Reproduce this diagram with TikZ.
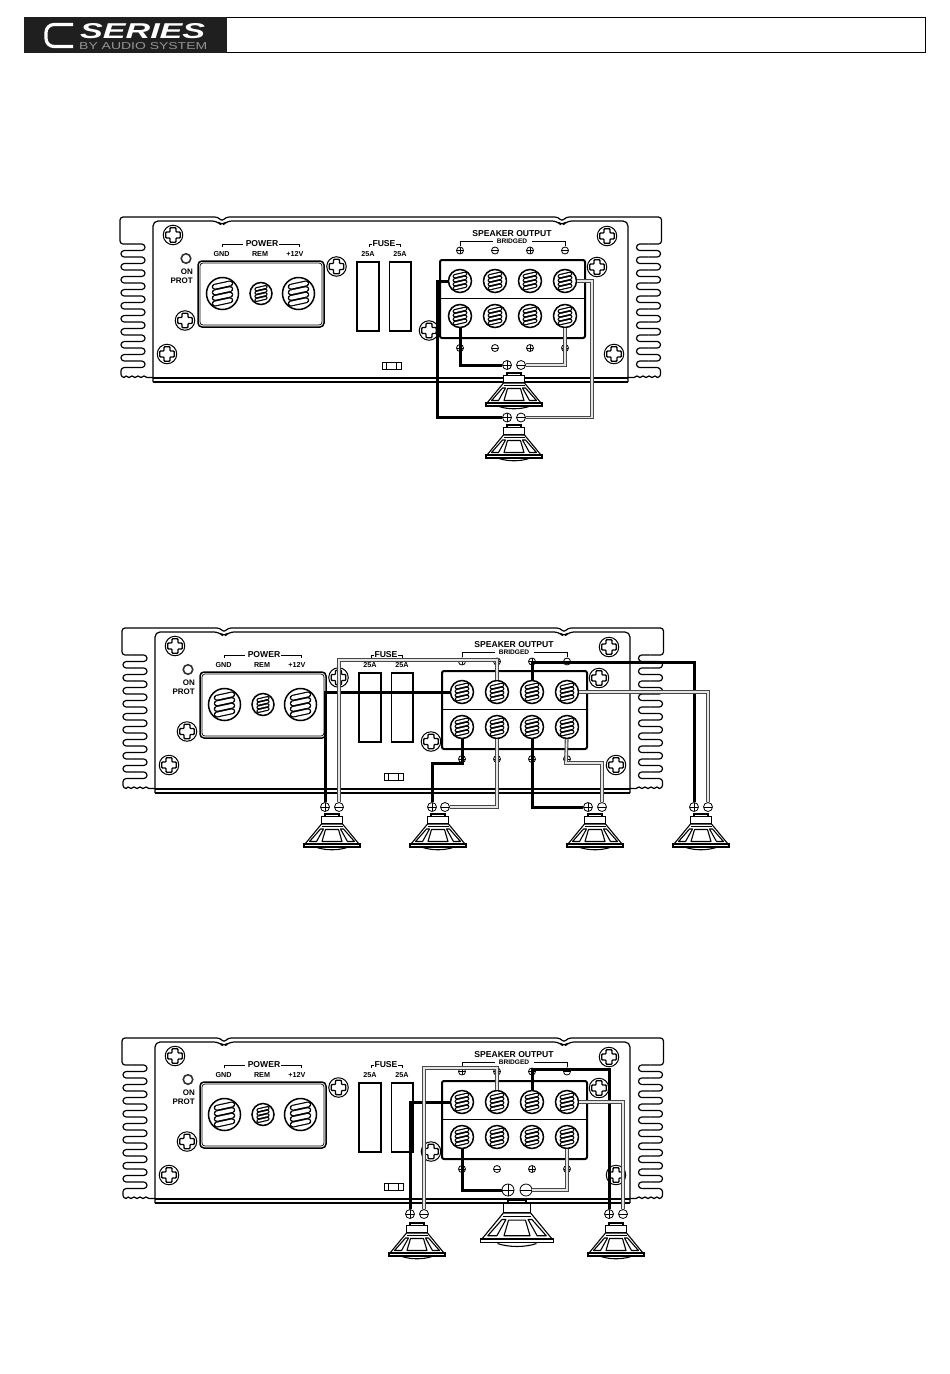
\documentclass[tikz,border=0pt]{standalone}
\usepackage{fontspec}
\usepackage{graphicx}
\setmainfont{Liberation Sans}
\usetikzlibrary{calc}
\tikzset{
  chline/.style={line width=1.2,line join=round},
  lab/.style={inner sep=0,font=\fontsize{7.2}{8}\selectfont\bfseries},
  labmid/.style={inner sep=0,font=\fontsize{8}{9}\selectfont\bfseries},
  labbig/.style={inner sep=0,font=\fontsize{8.6}{9}\selectfont\bfseries},
  labsmall/.style={inner sep=0,font=\fontsize{6.6}{7}\selectfont\bfseries},
  polep/.style={circle,draw,fill=white,line width=.8,minimum size=#1,inner sep=0,
    path picture={\draw[line width=.7] (path picture bounding box.north)--(path picture bounding box.south)
      (path picture bounding box.east)--(path picture bounding box.west);}},
  polem/.style={circle,draw,fill=white,line width=.8,minimum size=#1,inner sep=0,
    path picture={\draw[line width=.7] (path picture bounding box.east)--(path picture bounding box.west);}},
  screwnode/.style={circle,draw,fill=white,line width=1,minimum size=19.5,inner sep=0,
    path picture={\begin{scope}[shift={(path picture bounding box.center)}]
      \draw[line width=1.3,rounded corners=.8] (-3,-7.2)--(3,-7.2)--(3,-3)--(7.2,-3)--(7.2,3)--(3,3)--(3,7.2)--(-3,7.2)--(-3,3)--(-7.2,3)--(-7.2,-3)--(-3,-3)--cycle;
    \end{scope}}},
  termnode/.style n args={3}{circle,draw,fill=white,line width=1.5,minimum size=#1,inner sep=0,
    path picture={\begin{scope}[shift={(path picture bounding box.center)}]
      \pgfmathsetmacro\tw{#2}\pgfmathsetmacro\ts{#3}
      \pgfmathsetmacro\tb{\ts+0.4}\pgfmathsetmacro\tc{\ts-2}
      \foreach \q in {-1.5,-0.5,0.5,1.5}{
        \draw[line cap=round,line width=\tb] ({-\tw},{\q*\ts+\ts*0.3})--({\tw},{\q*\ts-\ts*0.3});
        \draw[line cap=round,line width=\tc,white] ({-\tw},{\q*\ts+\ts*0.3})--({\tw},{\q*\ts-\ts*0.3});
      }
    \end{scope}}},
  bw/.style={line width=3,line join=miter,black},
  gw/.style={draw=black!72,line width=1.1,double=black!10,double distance=1.6,line join=miter},
}
% chassis drawing; #1 prefix, #2,#3 origin
\newcommand\ampunit[3]{%
 \begin{scope}[shift={(#2,#3)}]
  \draw[chline,rounded corners=3] (13,28)--(0,28)--(0,1)--(98,1)--(102,5.5)--(106,1)--(438,1)--(442,5.5)--(446,1)--(541.5,1)--(541.5,28)--(528.5,28);
  \draw[chline,rounded corners=5] (33,166)--(33,5)--(97,5)--(102,10)--(107,5)--(437,5)--(442,10)--(447,5)--(508,5)--(508,166);
  \draw[chline] (33,162)--(508,162) (33,166)--(508,166);
  \foreach \i in {0,...,8}{
    \pgfmathsetmacro\ya{28+13*\i}\pgfmathsetmacro\yb{\ya+6.5}\pgfmathsetmacro\yc{\ya+13}
    \draw[chline,rounded corners=3.2] (13,\ya)--(25,\ya)--(25,\yb)--(1,\yb)--(1,\yc)--(13,\yc);
    \draw[chline,rounded corners=3.2] (528.5,\ya)--(516.5,\ya)--(516.5,\yb)--(540.5,\yb)--(540.5,\yc)--(528.5,\yc);
  }
  \draw[chline,rounded corners=3.2] (13,145)--(25,145)--(25,151.5)--(1,151.5)--(1,161.5)--(4,161.5);
  \draw[chline,rounded corners=3.2] (528.5,145)--(516.5,145)--(516.5,151.5)--(540.5,151.5)--(540.5,161.5)--(537.5,161.5);
  \draw[chline] (4,161.5)--(6,160)--(9,161.5)--(12,160)--(15,161.5)--(18,160)--(21,161.5)--(24,160)--(27,161.5)--(33,161.5);
  \draw[chline] (537.5,161.5)--(535,160)--(532,161.5)--(529,160)--(526,161.5)--(523,160)--(520,161.5)--(517,160)--(514,161.5)--(508,161.5);
  % screws
  \node[screwnode] (#1s1) at (53,19) {};
  \node[screwnode] (#1s2) at (65,104.5) {};
  \node[screwnode] (#1s3) at (47,138) {};
  \node[screwnode] (#1s4) at (216.5,50.5) {};
  \node[screwnode] (#1s5) at (477,51) {};
  \node[screwnode] (#1s6) at (309,114.5) {};
  \node[screwnode] (#1s7) at (487,20) {};
  \node[screwnode] (#1s8) at (494,138) {};
  % LED and labels
  \node[circle,draw=black!80,line width=1.6,minimum size=9.5,inner sep=0] (#1led) at (66,42.5) {};
  \node[labmid,anchor=east] (#1on) at (73,56) {ON};
  \node[labmid,anchor=east] (#1prot) at (73,65) {PROT};
  \node[labbig] (#1pow) at (142,28) {POWER};
  \node[lab] (#1gnd) at (101.5,38) {GND};
  \node[lab] (#1rem) at (140,38) {REM};
  \node[lab] (#1vb) at (175,38) {+12V};
  \draw[line width=.8] (102,31)--(102,28)--(123,28) (159,28)--(179,28)--(179,31);
  \node[labbig] (#1fuse) at (264,28) {FUSE};
  \node[lab] (#1fa) at (248,38) {25A};
  \node[lab] (#1fb) at (280,38) {25A};
  \draw[line width=.8] (249,31)--(249,28)--(252,28) (276,28)--(280,28)--(280,31);
  % power block
  \draw[line width=1.5,rounded corners=4] (78,45) rectangle (204,111);
  \draw[line width=.7,rounded corners=3] (80,47) rectangle (202,109);
  \node[termnode={32}{7.8}{5.6}] (#1pa) at (102.5,77.5) {};
  \node[termnode={22}{4.6}{3.6}] (#1pb) at (141,77.5) {};
  \node[termnode={32}{7.8}{5.6}] (#1pc) at (178.5,77.5) {};
  % fuses
  \draw[line width=1.2] (237,46) rectangle (259,115) (269.5,46) rectangle (291,115);
  \draw[line width=.8] (262,146) rectangle (281,153) (266.5,146)--(266.5,153) (276.5,146)--(276.5,153);
  % speaker output block
  \node[labbig] (#1so) at (392,18) {SPEAKER OUTPUT};
  \node[labsmall] (#1br) at (392,25) {BRIDGED};
  \draw[line width=.8] (340,30)--(340,25)--(373,25) (412,25)--(445,25)--(445,30);
  \draw[line width=2,rounded corners=2] (320,44) rectangle (465,122);
  \draw[line width=1] (320,82)--(465,82);
  \foreach \n/\x in {1/340,2/375,3/410,4/445}{
    \node[termnode={23}{5.2}{4}] (#1t\n) at (\x,65) {};
    \node[termnode={23}{5.2}{4}] (#1b\n) at (\x,100) {};
  }
  \node[polep=7] (#1ma) at (340,34.5) {};
  \node[polem=7] (#1mb) at (375,34.5) {};
  \node[polep=7] (#1mc) at (410,34.5) {};
  \node[polem=7] (#1md) at (445,34.5) {};
  \node[polep=7] (#1na) at (340,132) {};
  \node[polem=7] (#1nb) at (375,132) {};
  \node[polep=7] (#1nc) at (410,132) {};
  \node[polem=7] (#1nd) at (445,132) {};
 \end{scope}}
% speaker; #1,#2 top centre; #3 scale
\newcommand\spk[3]{%
 \begin{scope}[shift={(#1,#2)},scale=#3]
  \draw[line width=2,fill=white] (-7,0) rectangle (7,2.5);
  \draw[line width=1.1,fill=white] (-10.5,2.5) rectangle (10.5,9.5);
  \draw[line width=1.1,fill=white,line join=round] (-10.5,10)--(-27,30)--(27,30)--(10.5,10)--cycle;
  \draw[line width=1.2] (-10.5,12.5)--(10.5,12.5);
  \draw[line width=1.1,fill=white,line join=round] (-11.5,15)--(-22.5,27.5)--(-15.5,27.5)--(-8.5,15)--cycle;
  \draw[line width=1.1,fill=white,line join=round] (11.5,15)--(22.5,27.5)--(15.5,27.5)--(8.5,15)--cycle;
  \draw[line width=1.1,fill=white,line join=round] (-6.5,15.5)--(6.5,15.5)--(10,27.5)--(-10,27.5)--cycle;
  \draw[line width=1.1,fill=white] (-28,30) rectangle (28,33);
  \draw[line width=1.1] (-15,33.5) .. controls (-6,36.5) and (6,36.5) .. (15,33.5);
 \end{scope}}
\begin{document}
\begin{tikzpicture}[x=1pt,y=-1pt]
\useasboundingbox (0,0) rectangle (950,1374);
\fill[white] (0,0) rectangle (950,1374);
% header
\draw[line width=.9] (24.5,17.5) rectangle (925.5,52.5);
\fill[black!88] (24,17) rectangle (227,53);
\draw[white,line width=3.2,rounded corners=8] (73,24.5)--(46,24.5)--(46,46.5)--(73,46.5);
\node[white,inner sep=0,anchor=north west] (logoa) at (80,23) {\resizebox{125pt}{15pt}{\itshape\bfseries SERIES}};
\node[black!42,inner sep=0,anchor=north west] (logob) at (79,42) {\resizebox{128pt}{7pt}{BY AUDIO SYSTEM}};
% amplifiers
\ampunit{a}{120}{216}
\ampunit{b}{122}{627}
\ampunit{c}{122}{1037}
% speakers
\spk{514}{373}{1}
\spk{514}{425}{1}
\spk{332}{814}{1}
\spk{438}{814}{1}
\spk{595}{814}{1}
\spk{701}{814}{1}
\spk{417}{1223}{1}
\spk{517}{1200}{1.3}
\spk{616}{1223}{1}
% polarity marks at the speakers
\foreach \nm/\x/\y in {ap1/507/365,ap2/507/417.5,bp1/325/807,bp2/432/807,bp3/588/807,bp4/694/807,cp1/410/1214,cp3/609/1214}{\node[polep=9] (\nm) at (\x,\y) {};}
\foreach \nm/\x/\y in {am1/521/365,am2/521/417.5,bm1/339/807,bm2/445/807,bm3/602/807,bm4/708/807,cm1/424/1214,cm3/623/1214}{\node[polem=9] (\nm) at (\x,\y) {};}
\node[polep=12] (cpb) at (508,1190) {};
\node[polem=12] (cmb) at (526,1190) {};
% bend points
\coordinate (ax1) at (437,281);
\coordinate (ax2) at (437,417.5);
\coordinate (ax3) at (592,281);
\coordinate (ax4) at (592,417.5);
\coordinate (bx1) at (339,660);
\coordinate (bx2) at (497,660);
\coordinate (bx3) at (532,662);
\coordinate (bx4) at (694,662);
\coordinate (bx5) at (462,763);
\coordinate (bx6) at (432,763);
\coordinate (bx7) at (566,763);
\coordinate (bx8) at (602,763);
\coordinate (cx1) at (424,1068);
\coordinate (cx2) at (497,1068);
\coordinate (cx3) at (532,1069);
\coordinate (cx4) at (609,1069);
% wires panel A
\draw[bw] (at1)--(ax1)--(ax2)--(ap2);
\draw[gw] (at4)--(ax3)--(ax4)--(am2);
\draw[bw] (ab1)|-(ap1);
\draw[gw] (ab4)|-(am1);
% wires panel B
\draw[bw] (bt1)-|(bp1);
\draw[gw] (bm1)--(bx1)--(bx2)--(bt2);
\draw[bw] (bt3)--(bx3)--(bx4)--(bp4);
\draw[gw] (bt4)-|(bm4);
\draw[bw] (bb1)--(bx5)--(bx6)--(bp2);
\draw[gw] (bb2)|-(bm2);
\draw[bw] (bb3)|-(bp3);
\draw[gw] (bb4)--(bx7)--(bx8)--(bm3);
% wires panel C
\draw[bw] (ct1)-|(cp1);
\draw[gw] (cm1)--(cx1)--(cx2)--(ct2);
\draw[bw] (ct3)--(cx3)--(cx4)--(cp3);
\draw[gw] (ct4)-|(cm3);
\draw[bw] (cb1)|-(cpb);
\draw[gw] (cb4)|-(cmb);
\end{tikzpicture}
\end{document}
